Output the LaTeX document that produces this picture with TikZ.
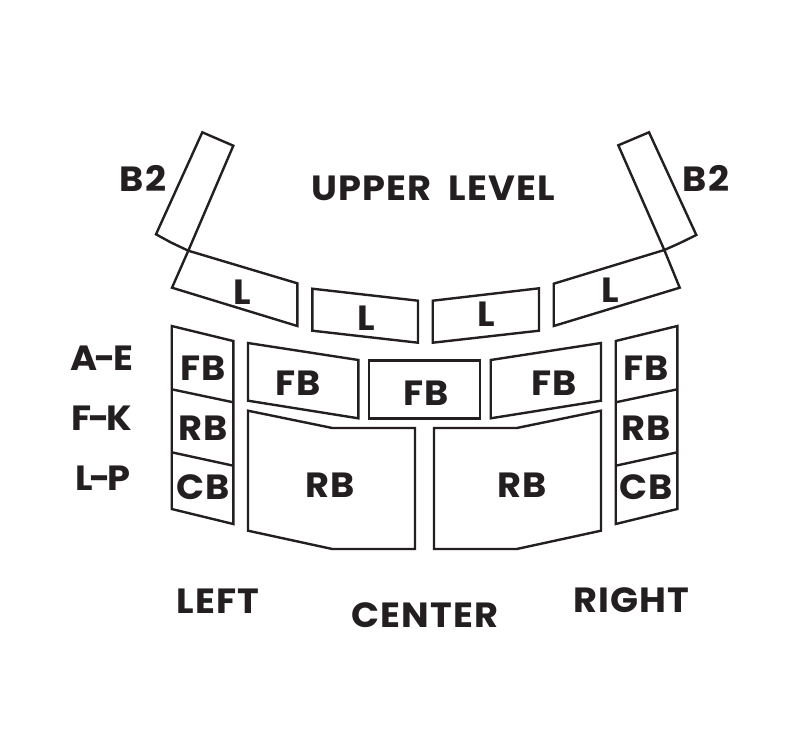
\documentclass[tikz,border=0pt]{standalone}
\usepackage{fontspec}
\setmainfont{Poppins}[FakeStretch=1.05,LetterSpace=3,WordSpace=2]
\definecolor{ink}{HTML}{231F20}
\newcommand{\dash}{\kern-3pt-\kern-3pt}
\tikzset{
    seat/.style={draw=ink, line width=2.4pt, line join=miter},
    lbl/.style={text=ink, font=\fontsize{35}{35}\selectfont\bfseries, inner sep=0pt},
}
\begin{document}
\begin{tikzpicture}[x=1pt,y=-1pt]
    \useasboundingbox [fill=white] (0,0) rectangle (800,744);
    % balcony strips
    \draw [seat] (188.3,250.7) -- (233.3,145.7) -- (202.3,132.3) -- (156,234.3) -- (171,242.5) -- (188.3,250.7);
    \draw [seat] (664.3,250) -- (618.3,145.3) -- (649,132.3) -- (696.3,235) -- (680,243) -- (664.3,250);
    % upper level
    \draw [seat] (172,287.7) -- (188.3,250.7) -- (297.3,283.3) -- (297.3,326) -- cycle;
    \draw [seat] (312.3,288.7) -- (418,300.7) -- (418,342.7) -- (312.3,330.7) -- cycle;
    \draw [seat] (432.7,300.7) -- (539,288.3) -- (539,330.7) -- (432.7,342.7) -- cycle;
    \draw [seat] (553.7,283.7) -- (664.3,250) -- (679.7,287.7) -- (553.7,326) -- cycle;
    % left and right columns
    \draw [seat] (171.7,326) -- (233.3,341) -- (233.3,524) -- (171.7,509) -- cycle;
    \draw [seat] (171.7,389.3) -- (233.3,402.3);
    \draw [seat] (171.7,452.3) -- (233.3,465.7);
    \draw [seat] (615.7,341) -- (677.3,326) -- (677.3,509) -- (615.7,524) -- cycle;
    \draw [seat] (615.7,402.3) -- (677.3,389.3);
    \draw [seat] (615.7,465.7) -- (677.3,452.3);
    % center blocks
    \draw [seat] (248,343) -- (358.3,360) -- (358.3,418.3) -- (248,400.7) -- cycle;
    \draw [seat] (369,360.3) -- (480,360.3) -- (480,418.3) -- (369,418.3) -- cycle;
    \draw [seat] (490.7,360) -- (601,343) -- (601,400.7) -- (490.7,418.3) -- cycle;
    \draw [seat] (248,410.7) -- (332.3,428) -- (415,428) -- (415,549) -- (332.3,549) -- (248,530.7) -- cycle;
    \draw [seat] (434,428) -- (516.7,428) -- (601,410.7) -- (601,530.7) -- (516.7,549) -- (434,549) -- cycle;
    % labels
    \node [lbl] (upper) at (433,188) {UPPER LEVEL};
    \node [lbl] (b2left) at (143,178) {B2};
    \node [lbl] (b2right) at (706,178) {B2};
    \node [lbl] (l1) at (242,292) {L};
    \node [lbl] (l2) at (366,318) {L};
    \node [lbl] (l3) at (486,314) {L};
    \node [lbl] (l4) at (610,290) {L};
    \node [lbl] (rowae) at (102,358) {A\dash E};
    \node [lbl] (rowfk) at (102,418) {F\dash K};
    \node [lbl] (rowlp) at (103,478) {L\dash P};
    \node [lbl] (fbl) at (203,368) {FB};
    \node [lbl] (rbl) at (203,428) {RB};
    \node [lbl] (cbl) at (203,487) {CB};
    \node [lbl] (fbr) at (646,368) {FB};
    \node [lbl] (rbr) at (646,428) {RB};
    \node [lbl] (cbr) at (646,487) {CB};
    \node [lbl] (fba) at (298,383) {FB};
    \node [lbl] (fbb) at (426,393) {FB};
    \node [lbl] (fbc) at (554,383) {FB};
    \node [lbl] (rba) at (330,485) {RB};
    \node [lbl] (rbb) at (522,485) {RB};
    \node [lbl] (left) at (218,601) {LEFT};
    \node [lbl] (center) at (425,615) {CENTER};
    \node [lbl] (right) at (631,600) {RIGHT};
\end{tikzpicture}
\end{document}
